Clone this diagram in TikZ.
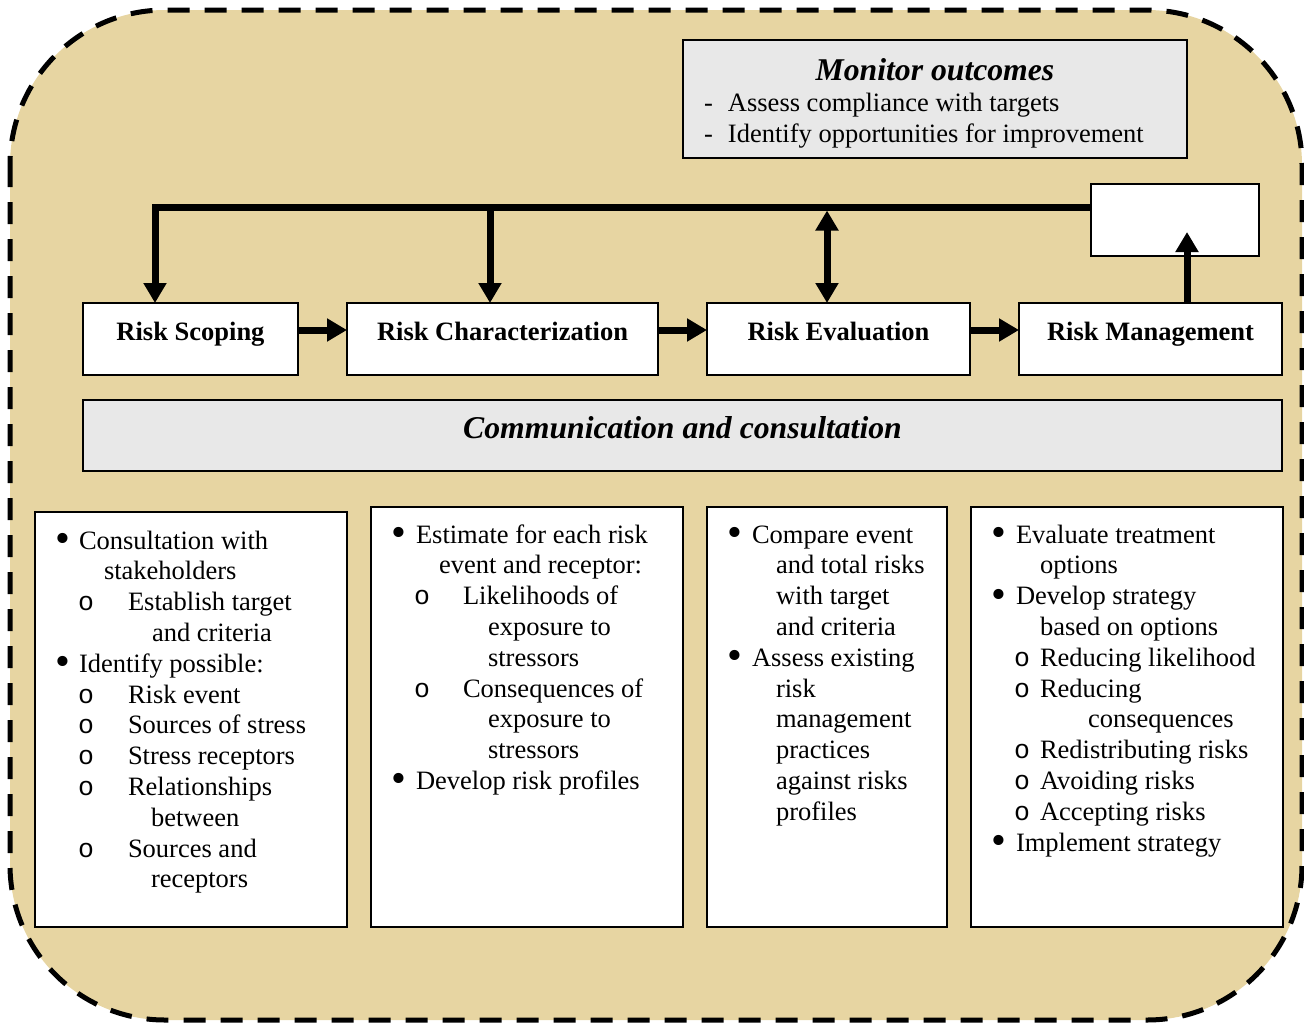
\documentclass[tikz,border=0pt]{standalone}
\usepackage{fontspec}
\setmainfont{Liberation Serif}
\setmonofont{Liberation Mono}
\usetikzlibrary{positioning}
\usetikzlibrary{arrows.meta}

\definecolor{papyrus}{RGB}{231,213,162}
\definecolor{panelgray}{RGB}{232,232,232}

\newcommand{\mk}[3]{\makebox[#2pt][l]{\hspace*{#1pt}#3}}
\newcommand{\blt}{\raisebox{-3.5pt}{\scalebox{1.6}{\textbullet}}}
\newcommand{\subm}{\texttt{o}}

\begin{document}
\begin{tikzpicture}[x=1pt, y=-1pt, >={Triangle[length=20pt,width=22pt]},
    box/.style={draw, line width=2.5pt, fill=white, inner sep=0pt, outer sep=0pt},
    stage/.style={box, font=\fontsize{26.5}{31}\selectfont\bfseries, text height=37pt, text depth=35pt, minimum width=#1},
    list/.style={box, anchor=north west, font=\fontsize{26.5}{30.8}\selectfont},
    arr/.style={line width=7pt, ->}]

    \useasboundingbox (0,0) rectangle (1304,1023);
    \draw[line width=5pt, dash pattern=on 22pt off 15pt, fill=papyrus, rounded corners=155pt] (10,10) rectangle (1302,1020);

    \node[box, fill=panelgray, anchor=north west, font=\fontsize{26.5}{31}\selectfont] (mon) at (683,40) {\parbox[t][118pt][t]{504pt}{%
        \makebox[504pt]{\fontsize{31.7}{31}\selectfont\bfseries\itshape\rule{0pt}{40pt}Monitor outcomes}\\
        \hspace*{21pt}\makebox[24pt][l]{-}Assess compliance with targets\\
        \hspace*{21pt}\makebox[24pt][l]{-}Identify opportunities for improvement}};
    \node[box, anchor=north west, minimum width=168pt, minimum height=72pt] (rec) at (1091,184) {};

    \node[stage=215pt, anchor=north west] (scope) at (83,303) {Risk Scoping};
    \node[stage=311pt, right=49pt of scope] (charac) {Risk Characterization};
    \node[stage=263pt, right=49pt of charac] (eval) {Risk Evaluation};
    \node[stage=263pt, right=49pt of eval] (mgmt) {Risk Management};

    \node[box, fill=panelgray, anchor=north west, minimum width=1199pt, text height=38pt, text depth=33pt,
        font=\fontsize{31.7}{31}\selectfont\bfseries\itshape] (comm) at (83,400) {Communication and consultation};

    \node[list] (scopelist) at (35,512) {\parbox[t][415pt][t]{312pt}{%
        \rule{0pt}{37pt}\mk{20}{44}{\blt}Consultation with\\
        \hspace*{69pt}stakeholders\\
        \mk{43}{93}{\subm}Establish target\\
        \hspace*{117pt}and criteria\\
        \mk{20}{44}{\blt}Identify possible:\\
        \mk{43}{93}{\subm}Risk event\\
        \mk{43}{93}{\subm}Sources of stress\\
        \mk{43}{93}{\subm}Stress receptors\\
        \mk{43}{93}{\subm}Relationships\\
        \hspace*{116pt}between\\
        \mk{43}{93}{\subm}Sources and\\
        \hspace*{116pt}receptors}};
    \node[list] (characlist) at (371,507) {\parbox[t][420pt][t]{312pt}{%
        \rule{0pt}{36pt}\mk{20}{45}{\blt}Estimate for each risk\\
        \hspace*{68pt}event and receptor:\\
        \mk{43}{92}{\subm}Likelihoods of\\
        \hspace*{117pt}exposure to\\
        \hspace*{117pt}stressors\\
        \mk{43}{92}{\subm}Consequences of\\
        \hspace*{117pt}exposure to\\
        \hspace*{117pt}stressors\\
        \mk{20}{45}{\blt}Develop risk profiles}};
    \node[list] (evallist) at (707,507) {\parbox[t][420pt][t]{240pt}{%
        \rule{0pt}{36pt}\mk{20}{45}{\blt}Compare event\\
        \hspace*{69pt}and total risks\\
        \hspace*{69pt}with target\\
        \hspace*{69pt}and criteria\\
        \mk{20}{45}{\blt}Assess existing\\
        \hspace*{69pt}risk\\
        \hspace*{69pt}management\\
        \hspace*{69pt}practices\\
        \hspace*{69pt}against risks\\
        \hspace*{69pt}profiles}};
    \node[list] (mgmtlist) at (971,507) {\parbox[t][420pt][t]{312pt}{%
        \rule{0pt}{36pt}\mk{20}{45}{\blt}Evaluate treatment\\
        \hspace*{69pt}options\\
        \mk{20}{45}{\blt}Develop strategy\\
        \hspace*{69pt}based on options\\
        \mk{43}{69}{\subm}Reducing likelihood\\
        \mk{43}{69}{\subm}Reducing\\
        \hspace*{117pt}consequences\\
        \mk{43}{69}{\subm}Redistributing risks\\
        \mk{43}{69}{\subm}Avoiding risks\\
        \mk{43}{69}{\subm}Accepting risks\\
        \mk{20}{45}{\blt}Implement strategy}};

    \coordinate (bus) at ([yshift=13pt]rec.west);
    \draw[arr] (bus) -| ([xshift=-35.5pt]scope.north);
    \draw[arr] ([xshift=-12.5pt]charac.north |- bus) -- ([xshift=-12.5pt]charac.north);
    \draw[arr, <->] ([xshift=-11.5pt,yshift=-3.5pt]eval.north |- bus) -- ([xshift=-11.5pt]eval.north);
    \draw[arr] ([xshift=36.5pt]mgmt.north) -- ([xshift=12pt,yshift=24pt]rec.south);

    \draw[arr] ([yshift=9pt]scope.east) -- ([yshift=9pt]charac.west);
    \draw[arr] ([yshift=9pt]charac.east) -- ([yshift=9pt]eval.west);
    \draw[arr] ([yshift=9pt]eval.east) -- ([yshift=9pt]mgmt.west);
\end{tikzpicture}
\end{document}
